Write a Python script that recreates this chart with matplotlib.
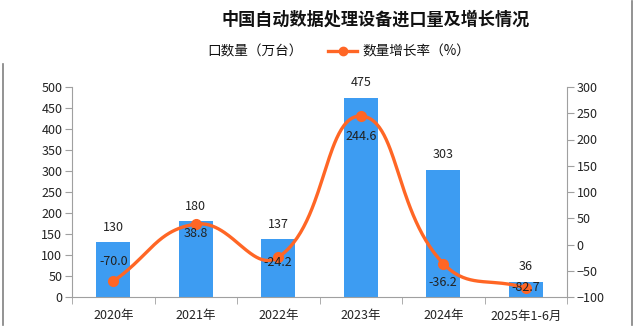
import numpy as np
import matplotlib
matplotlib.use("Agg")
import matplotlib.pyplot as plt
from matplotlib.lines import Line2D

plt.rcParams['font.family'] = ['Noto Sans CJK SC', 'DejaVu Sans']
plt.rcParams['axes.unicode_minus'] = True

categories = ["2020年", "2021年", "2022年", "2023年", "2024年", "2025年1-6月"]
import_volume = [130, 180, 137, 475, 303, 36]          # 万台
growth_rate = [-70.0, 38.8, -24.2, 244.6, -36.2, -82.7]  # %

bar_color = "#3d9cf2"
line_color = "#ff6625"
axis_color = "#a0a0a0"

W, H, DPI = 637, 328, 100
fig = plt.figure(figsize=(W / DPI, H / DPI), dpi=DPI)
ax = fig.add_axes([72 / W, 1 - 297 / H, (567 - 72) / W, (297 - 87) / H])
ax2 = ax.twinx()

x = np.arange(len(categories))
ax.bar(x, import_volume, width=0.41, color=bar_color, zorder=2)
ax.set_xlim(-0.5, len(categories) - 0.5)
ax.set_ylim(0, 500)
ax.set_yticks(np.arange(0, 501, 50))
ax2.set_ylim(-100, 300)
ax2.set_yticks(np.arange(-100, 301, 50))

for xi, v in zip(x, import_volume):
    ax.annotate(f"{v}", (xi, v), xytext=(0, 11), textcoords="offset points",
                ha="center", va="center", fontsize=9, color="#222222")

# smooth curve through the growth points (bezier smoothing in screen space)
fig.canvas.draw()
pts = ax2.transData.transform(np.column_stack([x, growth_rate]))
smooth = 0.45
segs = []
n = len(pts)
cps = []
for i in range(n):
    p = pts[i]
    prev = pts[i - 1] if i > 0 else p
    nxt = pts[i + 1] if i < n - 1 else p
    v = (nxt - prev) * smooth
    d0 = np.hypot(*(p - prev))
    d1 = np.hypot(*(p - nxt))
    s = d0 + d1
    if s > 0:
        d0, d1 = d0 / s, d1 / s
    cps.append((p - v * d0, p + v * d1))
curve = []
t = np.linspace(0, 1, 60)[:, None]
for i in range(n - 1):
    p0, p3 = pts[i], pts[i + 1]
    c1, c2 = cps[i][1], cps[i + 1][0]
    seg = ((1 - t) ** 3) * p0 + 3 * ((1 - t) ** 2) * t * c1 + 3 * (1 - t) * t ** 2 * c2 + t ** 3 * p3
    curve.append(seg if i == 0 else seg[1:])
curve = np.vstack(curve)
curve_data = ax2.transData.inverted().transform(curve)
ax2.plot(curve_data[:, 0], curve_data[:, 1], color=line_color, lw=2.4, zorder=3,
         solid_capstyle="round")
ax2.plot(x, growth_rate, "o", color=line_color, ms=7, zorder=4)

label_offsets = [14, -7, -4, -15, -14, 0]
for xi, v, dy in zip(x, growth_rate, label_offsets):
    ax2.annotate(f"{v:.1f}", (xi, v), xytext=(0, dy), textcoords="offset points",
                 ha="center", va="center", fontsize=9, color="#222222", zorder=5)

# axes styling
for a in (ax, ax2):
    for side in ("top",):
        a.spines[side].set_visible(False)
    for side in ("left", "right", "bottom"):
        a.spines[side].set_color(axis_color)
ax.spines["right"].set_visible(False)
ax2.spines["left"].set_visible(False)
ax2.spines["bottom"].set_visible(False)

ax.set_xticks(x)
ax.set_xticklabels(categories, fontsize=9, color="#222222")
ax.tick_params(axis="x", which="major", length=0, pad=9)
ax.set_xticks(np.arange(-0.5, len(categories), 1), minor=True)
ax.tick_params(axis="x", which="minor", length=5, color=axis_color)
ax.tick_params(axis="y", length=5, color=axis_color, labelsize=9, labelcolor="#222222", pad=2)
ax2.tick_params(axis="y", length=5, color=axis_color, labelsize=9, labelcolor="#222222", pad=2)

# title and legend
fig.text(376 / W, 1 - 20 / H, "中国自动数据处理设备进口量及增长情况", ha="center", va="center",
         fontsize=12.3, fontweight="bold", color="#111111")
fig.text(207 / W, 1 - 51 / H, "口数量（万台）", ha="left", va="center", fontsize=9.8,
         color="#111111")
fig.add_artist(Line2D([328 / W, 357 / W], [1 - 51 / H, 1 - 51 / H], color=line_color, lw=2.4,
                      transform=fig.transFigure))
fig.add_artist(Line2D([342.5 / W], [1 - 51 / H], marker="o", ms=6, color=line_color,
                      transform=fig.transFigure))
fig.text(362 / W, 1 - 51 / H, "数量增长率（%）", ha="left", va="center", fontsize=9.8,
         color="#111111")

# thin frame lines at the figure edges
fig.add_artist(Line2D([3 / W, 3 / W], [1 - 64 / H, 1 - 325 / H], color="#808080", lw=1.2,
                      transform=fig.transFigure))
fig.add_artist(Line2D([632 / W, 632 / W], [1 - 1 / H, 1 - 325 / H], color="#808080", lw=1.2,
                      transform=fig.transFigure))

fig.savefig("out.png", dpi=DPI)
